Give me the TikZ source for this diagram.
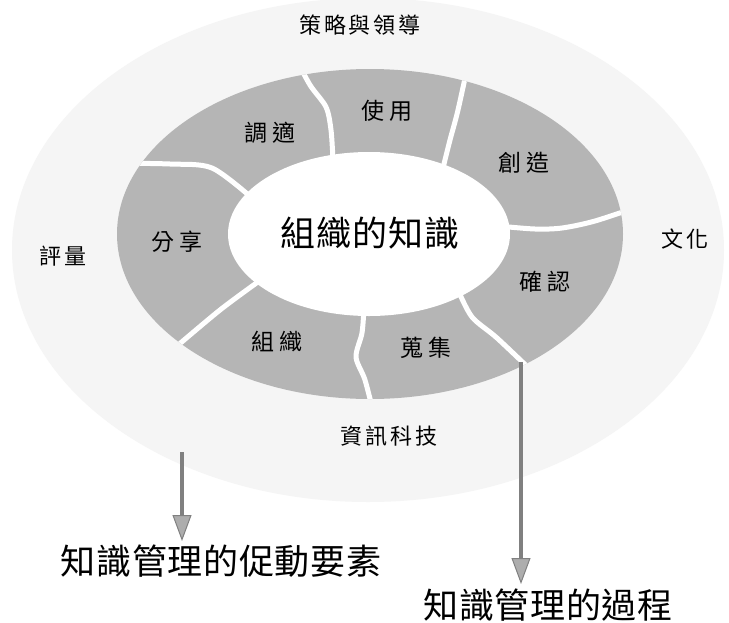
\documentclass[tikz,border=0pt]{standalone}
\usepackage{fontspec}
\newfontfamily\cjk{Noto Sans CJK TC}
\usetikzlibrary{arrows.meta}
\newcommand\ringouter{(370,234) ellipse [x radius=253, y radius=165]}
\tikzset{
  bgfill/.style={fill=black!4},
  ringfill/.style={fill=black!29},
  gapline/.style={draw=white, line width=5pt, line cap=round, line join=round},
  seglabel/.style={inner sep=0pt, font=\cjk\addfontfeature{LetterSpace=18}\fontsize{23}{23}\selectfont},
  outlabel/.style={inner sep=0pt, font=\cjk\addfontfeature{LetterSpace=13}\fontsize{22}{22}\selectfont},
  corelabel/.style={inner sep=0pt, font=\cjk\addfontfeature{LetterSpace=3}\fontsize{35}{35}\selectfont},
  biglabel/.style={inner sep=0pt, font=\cjk\addfontfeature{LetterSpace=2}\fontsize{35}{35}\selectfont},
  kmarrow/.style={draw=black!50, line width=4pt,
    -{Triangle[width=19pt, length=26pt, line width=1pt, fill=black!32]}}
}
\begin{document}
\begin{tikzpicture}[x=1pt, y=-1pt]
  \useasboundingbox (0,0) rectangle (729,622);
  \fill[white] (0,0) rectangle (729,622);
  % enabling-factor background
  \path[bgfill] (368,250) ellipse [x radius=356, y radius=252];
  % process ring
  \path[ringfill] \ringouter;
  \begin{scope}
    \clip \ringouter;
    \draw[gapline] plot[smooth] coordinates {(105,163) (170,164) (212,168) (252,198)};
    \draw[gapline] plot[smooth] coordinates {(294,55) (310,85) (326,107) (331,130) (333,160)};
    \draw[gapline] plot[smooth] coordinates {(470,55) (458,110) (450,140) (443,168)};
    \draw[gapline] plot[smooth] coordinates {(498,226) (535,229) (562,228) (595,221) (640,206)};
    \draw[gapline] plot[smooth] coordinates {(458,290) (472,317) (497,338) (535,374)};
    \draw[gapline] plot[smooth] coordinates {(364,308) (362,333) (356,357) (365,380) (374,415)};
    \draw[gapline] plot[smooth] coordinates {(262,279) (220,310) (170,352)};
  \end{scope}
  \fill[white] (369,234) ellipse [x radius=141, y radius=82];
  % labels
  \node[corelabel] (core) at (370,233) {組織的知識};
  \node[seglabel] (use) at (387,111) {使用};
  \node[seglabel] (adapt) at (270,133) {調適};
  \node[seglabel] (create) at (524,163) {創造};
  \node[seglabel] (confirm) at (545,282) {確認};
  \node[seglabel] (collect) at (426,348) {蒐集};
  \node[seglabel] (organize) at (277,342) {組織};
  \node[seglabel] (share) at (177,242) {分享};
  \node[outlabel] (lead) at (360,25) {策略與領導};
  \node[outlabel] (culture) at (685,239) {文化};
  \node[outlabel] (measure) at (63,256) {評量};
  \node[outlabel] (it) at (389,436) {資訊科技};
  \node[biglabel] (enablers) at (221,561) {知識管理的促動要素};
  \node[biglabel] (process) at (548,605) {知識管理的過程};
  % arrows
  \coordinate (la) at (182,452);
  \coordinate (lb) at (182,541);
  \coordinate (ra) at (521,362);
  \coordinate (rb) at (521,584);
  \draw[kmarrow] (la) -- (lb);
  \draw[kmarrow] (ra) -- (rb);
\end{tikzpicture}
\end{document}
